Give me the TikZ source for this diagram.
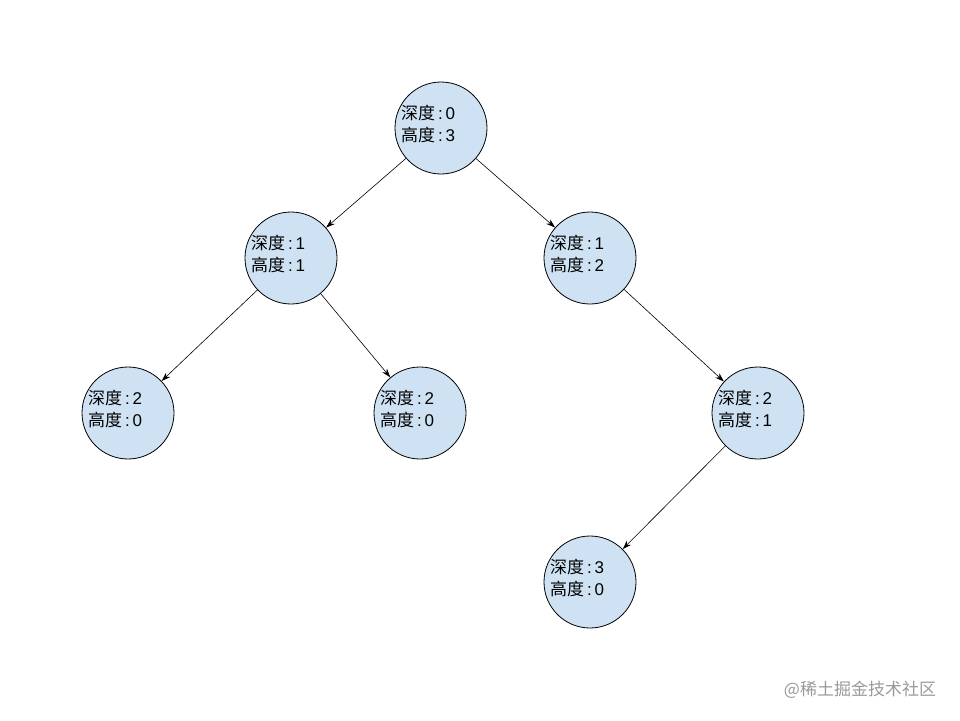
\documentclass[tikz,border=0pt]{standalone}
\usepackage{fontspec}
\setmainfont{Liberation Sans}
\newfontfamily\cjk{Noto Sans CJK SC}
\usetikzlibrary{arrows.meta}
\definecolor{nodefill}{HTML}{CFE2F3}
\tikzset{
  tnode/.style={circle,draw=black,fill=nodefill,line width=0.8pt,minimum size=92pt,inner sep=0pt},
  tlbl/.style={anchor=west,align=left,inner sep=0pt,font=\fontsize{17pt}{22pt}\selectfont},
  conn/.style={-{Stealth[length=9pt,width=6pt]},line width=0.6pt}
}
\newcommand{\lbl}[2]{{\cjk 深度}\,:\,#1\\{\cjk 高度}\,:\,#2}
\newcommand{\tn}[4]{\node[tnode] (#1) at (#2) {};\node[tlbl] (#1t) at ([xshift=-40pt,yshift=4pt]#1.center) {\lbl{#3}{#4}};}
\begin{document}
\begin{tikzpicture}[x=1pt,y=-1pt]
\useasboundingbox (0,0) rectangle (960,720);
\tn{r}{441,128}{0}{3}
\tn{a}{291,258}{1}{1}
\tn{b}{590,258}{1}{2}
\tn{c}{128,413}{2}{0}
\tn{d}{420,413}{2}{0}
\tn{e}{758,413}{2}{1}
\tn{f}{590,582}{3}{0}
\draw[conn] (r) -- (a);
\draw[conn] (r) -- (b);
\draw[conn] (a) -- (c);
\draw[conn] (a) -- (d);
\draw[conn] (b) -- (e);
\draw[conn] (e) -- (f);
\node[text=gray!80,font=\cjk\fontsize{17pt}{20pt}\selectfont] (w) at (860,690) {@稀土掘金技术社区};
\end{tikzpicture}
\end{document}
